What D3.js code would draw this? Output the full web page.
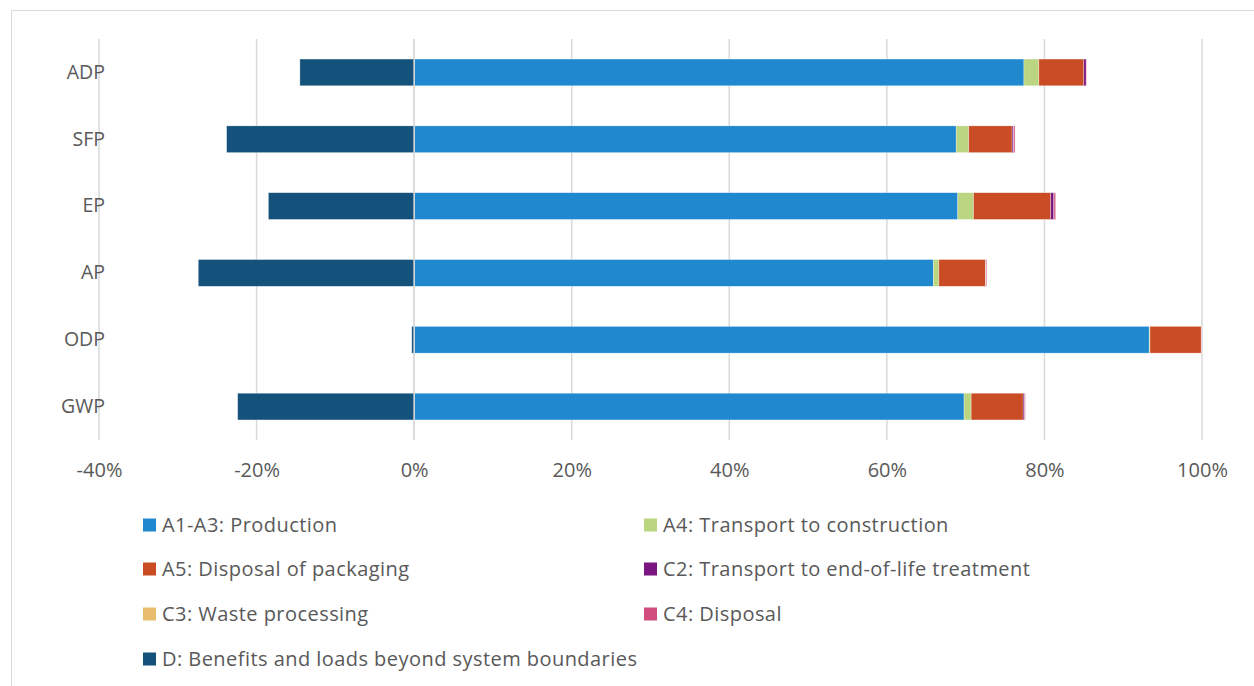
<!DOCTYPE html>
<html>
<head>
<meta charset="utf-8">
<script src="https://cdn.jsdelivr.net/npm/d3@7"></script>
<style>
  body { margin: 0; background: #fff; }
  svg text { font-family: "Open Sans", "Liberation Sans", sans-serif; fill: #595959; }
</style>
</head>
<body>
<script>
var width = 1254,
  height = 686;

// categories, top to bottom
var categories = ["ADP", "SFP", "EP", "AP", "ODP", "GWP"];

// series values in %
var a1a3 = [77.4, 68.8, 69.0, 65.9, 93.3, 69.8];
var a4 = [1.9, 1.6, 2.0, 0.7, 0.1, 0.9];
var a5 = [5.7, 5.5, 9.8, 5.9, 6.5, 6.6];
var c2 = [0.3, 0.2, 0.4, 0.05, 0.02, 0.2];
var c3 = [0.02, 0.02, 0.02, 0.02, 0, 0.02];
var c4 = [0.05, 0.15, 0.2, 0.1, 0.02, 0.05];
var dBen = [-14.5, -23.8, -18.5, -27.4, -0.3, -22.4];

var tickValues = [-40, -20, 0, 20, 40, 60, 80, 100];

var seriesNames = ["A1-A3: Production", "A4: Transport to construction", "A5: Disposal of packaging",
  "C2: Transport to end-of-life treatment", "C3: Waste processing", "C4: Disposal",
  "D: Benefits and loads beyond system boundaries"];
var seriesColors = ["#2088cf", "#bbd580", "#c94c24", "#7b1581", "#e8be6e", "#d14d7e", "#14527c"];
var seriesValues = [a1a3, a4, a5, c2, c3, c4, dBen];

var svg = d3.select("body").append("svg")
  .attr("width", width)
  .attr("height", height);

// chart frame
svg.append("rect")
  .attr("x", 11.5).attr("y", 10.5)
  .attr("width", width).attr("height", height)
  .attr("fill", "none")
  .attr("stroke", "#d9d9d9");

var x = d3.scaleLinear().domain([-40, 100]).range([99, 1202]);
var y = d3.scaleBand().domain(categories).range([39, 440]).paddingInner(0.6).paddingOuter(0.3);

// gridlines
svg.append("g").selectAll("line")
  .data(tickValues)
  .enter().append("line")
  .attr("x1", function (d) { return x(d); })
  .attr("x2", function (d) { return x(d); })
  .attr("y1", 39).attr("y2", 440)
  .attr("stroke", "#d9d9d9")
  .attr("stroke-width", 1.5);

// stack: positives from 0 rightwards, negatives from 0 leftwards
var segs = [];
categories.forEach(function (c, i) {
  var pos = 0, neg = 0;
  seriesValues.forEach(function (vals, s) {
    var v = vals[i];
    if (v >= 0) { segs.push({ cat: c, s: s, x0: pos, x1: pos + v }); pos += v; }
    else { segs.push({ cat: c, s: s, x0: neg + v, x1: neg }); neg += v; }
  });
});

svg.append("g").selectAll("rect")
  .data(segs.filter(function (d) { return d.x1 > d.x0; }))
  .enter().append("rect")
  .attr("x", function (d) { return x(d.x0); })
  .attr("width", function (d) { return x(d.x1) - x(d.x0); })
  .attr("y", function (d) { return y(d.cat); })
  .attr("height", y.bandwidth())
  .attr("fill", function (d) { return seriesColors[d.s]; })
  .attr("stroke", "#fff")
  .attr("stroke-opacity", 0.5)
  .attr("stroke-width", 0.6);

// zero line on top of bars
svg.append("line")
  .attr("x1", x(0)).attr("x2", x(0))
  .attr("y1", 39).attr("y2", 440)
  .attr("stroke", "#d9d9d9").attr("stroke-width", 1.5);

// category labels
var yAxis = svg.append("g")
  .attr("transform", "translate(105,0)")
  .call(d3.axisLeft(y).tickSize(0).tickPadding(0));
yAxis.select(".domain").remove();
yAxis.selectAll("text")
  .style("font-size", "19.5px")
  .style("font-family", "'Open Sans', sans-serif")
  .attr("fill", "#595959");

// x tick labels
var xAxis = svg.append("g")
  .attr("transform", "translate(0,463)")
  .call(d3.axisBottom(x).tickValues(tickValues).tickSize(0).tickPadding(0)
    .tickFormat(function (d) { return d + "%"; }));
xAxis.select(".domain").remove();
xAxis.selectAll("text")
  .style("font-size", "20px")
  .style("font-family", "'Open Sans', sans-serif")
  .attr("fill", "#595959");

// legend
var legendPos = [[143, 525], [644, 525], [143, 569], [644, 569], [143, 614], [644, 614], [143, 659]];
var legend = svg.append("g").selectAll("g")
  .data(seriesNames)
  .enter().append("g")
  .attr("transform", function (d, i) { return "translate(" + legendPos[i][0] + "," + legendPos[i][1] + ")"; });

legend.append("rect")
  .attr("x", 0).attr("y", -6.5)
  .attr("width", 13).attr("height", 13)
  .attr("fill", function (d, i) { return seriesColors[i]; });

legend.append("text")
  .attr("x", 19).attr("y", 0)
  .attr("dy", "0.35em")
  .style("font-size", "20px")
  .style("letter-spacing", "0.45px")
  .text(function (d) { return d; });
</script>
</body>
</html>
